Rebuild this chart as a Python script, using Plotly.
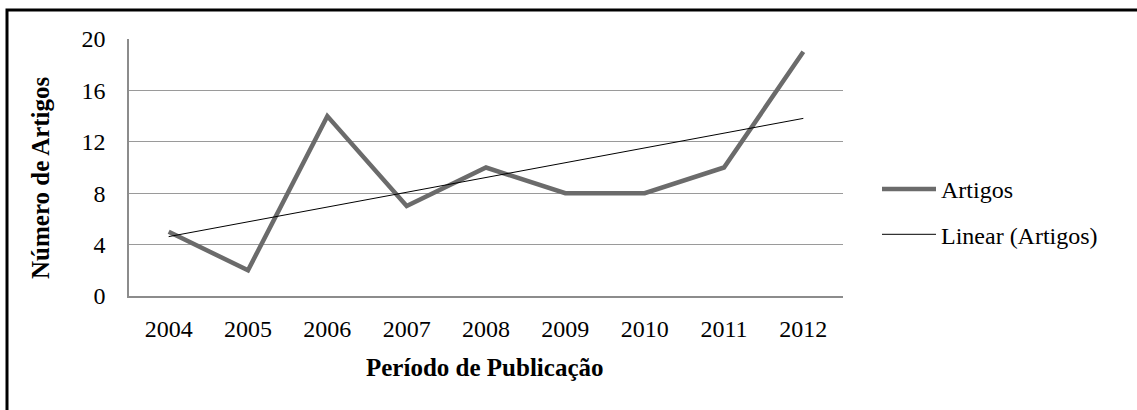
import numpy as np
import plotly.graph_objects as go

years = ["2004", "2005", "2006", "2007", "2008", "2009", "2010", "2011", "2012"]
artigos = [5, 2, 14, 7, 10, 8, 8, 10, 19]
y_ticks = [0, 4, 8, 12, 16, 20]

x_idx = np.arange(len(years))
slope, intercept = np.polyfit(x_idx + 1, artigos, 1)
trend = slope * (x_idx + 1) + intercept

W, H = 1137, 410
L, R, T, B = 129, 843, 39, 296

font = "Liberation Serif, Times New Roman, serif"

fig = go.Figure()
fig.add_trace(go.Scatter(
    x=x_idx, y=artigos, mode="lines", name="Artigos",
    line=dict(color="#6b6b6b", width=4.5), legendgroup="a"))
fig.add_trace(go.Scatter(
    x=x_idx, y=trend, mode="lines", name="Linear (Artigos)",
    line=dict(color="#000000", width=1), legendgroup="b"))

pw, ph = R - L, B - T
def px_x(p):
    return (p - L) / pw
def px_y(p):
    return (B - p) / ph

fig.update_layout(
    width=W, height=H,
    margin=dict(l=L, r=W - R, t=T, b=H - B, autoexpand=False),
    paper_bgcolor="white", plot_bgcolor="white",
    font=dict(family=font, size=24, color="#000000"),
    showlegend=True,
    legend=dict(x=px_x(877), y=px_y(167), xanchor="left", yanchor="top",
                font=dict(size=24), tracegroupgap=11, itemwidth=54,
                bgcolor="rgba(0,0,0,0)"),
    xaxis=dict(range=[-0.5, len(years) - 0.5], tickmode="array",
               tickvals=list(x_idx), ticktext=years, showgrid=False,
               showline=True, linecolor="#8c8c8c", linewidth=1.5,
               ticks="outside", ticklen=10, tickcolor="rgba(0,0,0,0)",
               zeroline=False),
    yaxis=dict(range=[0, 20], tickmode="array", tickvals=y_ticks,
               showgrid=True, gridcolor="#9a9a9a", gridwidth=1,
               showline=True, linecolor="#8c8c8c", linewidth=1.5,
               ticks="outside", ticklen=17, tickcolor="rgba(0,0,0,0)",
               zeroline=False),
    annotations=[
        dict(text="<b>Período de Publicação</b>", xref="paper", yref="paper",
             x=px_x(484), y=px_y(367), xanchor="center", yanchor="middle",
             showarrow=False, font=dict(size=25)),
        dict(text="<b>Número de Artigos</b>", xref="paper", yref="paper",
             x=px_x(40), y=px_y(178), xanchor="center", yanchor="middle",
             textangle=-90, showarrow=False, font=dict(size=25)),
    ],
    shapes=[dict(type="rect", xref="paper", yref="paper",
                 x0=px_x(7), x1=px_x(1150), y0=px_y(430), y1=px_y(10),
                 line=dict(color="black", width=3), layer="above")],
)

fig.write_html("out.html", config={"displayModeBar": False},
               post_script="document.body.style.margin='0';document.body.style.overflow='hidden';")
